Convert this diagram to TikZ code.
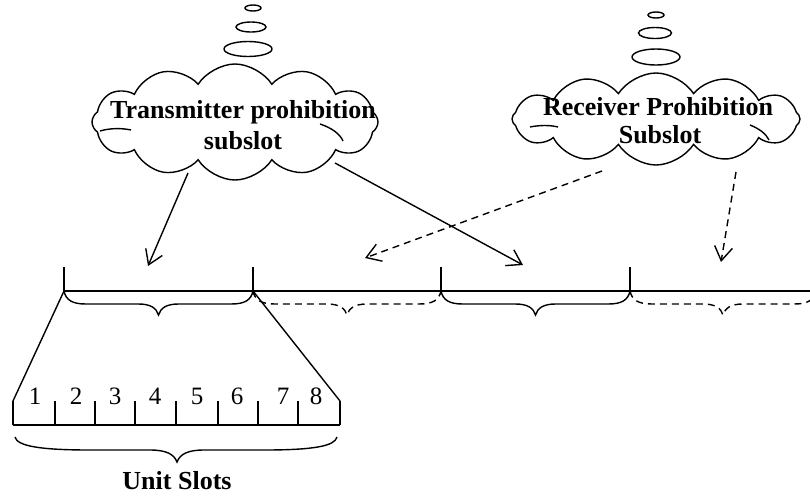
\documentclass[tikz,border=0pt]{standalone}
\usepackage{fontspec}
\setmainfont{Liberation Serif}
\usetikzlibrary{shapes.symbols,shapes.geometric,arrows.meta}
\newcommand{\hbr}[4]{%
  \pgfmathsetmacro{\bxm}{(#2+#3)/2}%
  \draw[#1] (#2,#4) .. controls (#2+2,#4+9) and (#2+8,#4+13) .. (#2+22,#4+13)
    -- (\bxm-20,#4+13) .. controls (\bxm-8,#4+13) and (\bxm-2,#4+17) .. (\bxm,#4+24)
    .. controls (\bxm+2,#4+17) and (\bxm+8,#4+13) .. (\bxm+20,#4+13)
    -- (#3-22,#4+13) .. controls (#3-8,#4+13) and (#3-2,#4+9) .. (#3,#4);}
\begin{document}
\begin{tikzpicture}[x=1pt,y=-1pt,
  ln/.style={line width=1.4pt},
  dsh/.style={line width=1.4pt,dash pattern=on 7pt off 5pt},
  arr/.style={-{Straight Barb[length=14pt,width=18pt]}},
  cl/.style={cloud,draw,line width=1.4pt,cloud puffs=12,cloud puff arc=115,cloud ignores aspect,inner sep=0pt},
  bub/.style={ellipse,draw,line width=1.4pt,inner sep=0pt},
  big/.style={font=\bfseries\fontsize{26}{31}\selectfont,anchor=base,inner sep=0pt},
  num/.style={font=\fontsize{25}{30}\selectfont,anchor=base,inner sep=0pt}]
\useasboundingbox (0,0) rectangle (810,496);
\begin{scope}
\clip (0,0) rectangle (810,496);
% thought bubbles
\node[bub,minimum width=16pt,minimum height=6pt] (tb1) at (253,8) {};
\node[bub,minimum width=30pt,minimum height=10pt] (tb2) at (251,27) {};
\node[bub,minimum width=48pt,minimum height=15pt] (tb3) at (248,49) {};
\node[bub,minimum width=16pt,minimum height=6pt] (rb1) at (656,15) {};
\node[bub,minimum width=33pt,minimum height=11pt] (rb2) at (655,33) {};
\node[bub,minimum width=48pt,minimum height=16pt] (rb3) at (656,57) {};
% clouds
\node[cl,minimum width=286pt,minimum height=116pt] (tc) at (235,122) {};
\node[cl,minimum width=288pt,minimum height=92pt] (rc) at (656,119) {};
% interior hint arcs
\draw[ln] (100,131) .. controls (110,128) and (122,128) .. (131,130);
\draw[ln] (320,124) .. controls (332,128) and (340,134) .. (343,141);
\draw[ln] (530,127) .. controls (540,125) and (550,125) .. (558,127);
\draw[ln] (750,125) .. controls (760,129) and (766,134) .. (769,140);
\node[big] (tt1) at (243,118) {Transmitter prohibition};
\node[big] (tt2) at (243,149) {subslot};
\node[big] (rt1) at (658,115) {Receiver Prohibition};
\node[big] (rt2) at (660,143) {Subslot};
% timeline
\coordinate (L0) at (64,291);
\coordinate (L1) at (253,291);
\coordinate (L2) at (441,291);
\coordinate (L3) at (630,291);
\coordinate (L4) at (810,291);
\draw[ln] (L0) -- (L4);
\foreach \p in {L0,L1,L2,L3} \draw[ln] (\p) -- ++(0,-24);
\hbr{ln}{64}{253}{291}
\hbr{dsh}{253}{441}{291}
\hbr{ln}{441}{630}{291}
\hbr{dsh}{630}{816}{291}
% arrows
\coordinate (a1s) at (188,173); \coordinate (a1e) at (148,266);
\coordinate (a2s) at (335,163); \coordinate (a2e) at (523,265);
\coordinate (a3s) at (602,171); \coordinate (a3e) at (365,258);
\coordinate (a4s) at (736,172); \coordinate (a4e) at (721,262);
\draw[ln,arr] (a1s) -- (a1e);
\draw[ln,arr] (a2s) -- (a2e);
\draw[dsh,arr] (a3s) -- (a3e);
\draw[dsh,arr] (a4s) -- (a4e);
% ruler
\coordinate (R0) at (13,425);
\coordinate (R8) at (340,425);
\draw[ln] (R0) -- (R8);
\foreach \x in {13,55,95,135,176,218,258,298,340} \draw[ln] (\x,425) -- (\x,401);
\draw[ln] (L0) -- (13,401);
\draw[ln] (L1) -- (340,401);
\foreach \x/\n in {35/1,76/2,115/3,155/4,197/5,237/6,283/7,316/8}
  \node[num] (n\n) at (\x,404) {\n};
\draw[ln] (15,437) .. controls (17,446) and (40,450) .. (90,450)
  -- (150,450) .. controls (166,450) and (174,454) .. (177,462)
  .. controls (180,454) and (188,450) .. (204,450)
  -- (264,450) .. controls (314,450) and (335,446) .. (337,437);
\node[big] (us) at (177,489) {Unit Slots};
\end{scope}
\end{tikzpicture}
\end{document}
